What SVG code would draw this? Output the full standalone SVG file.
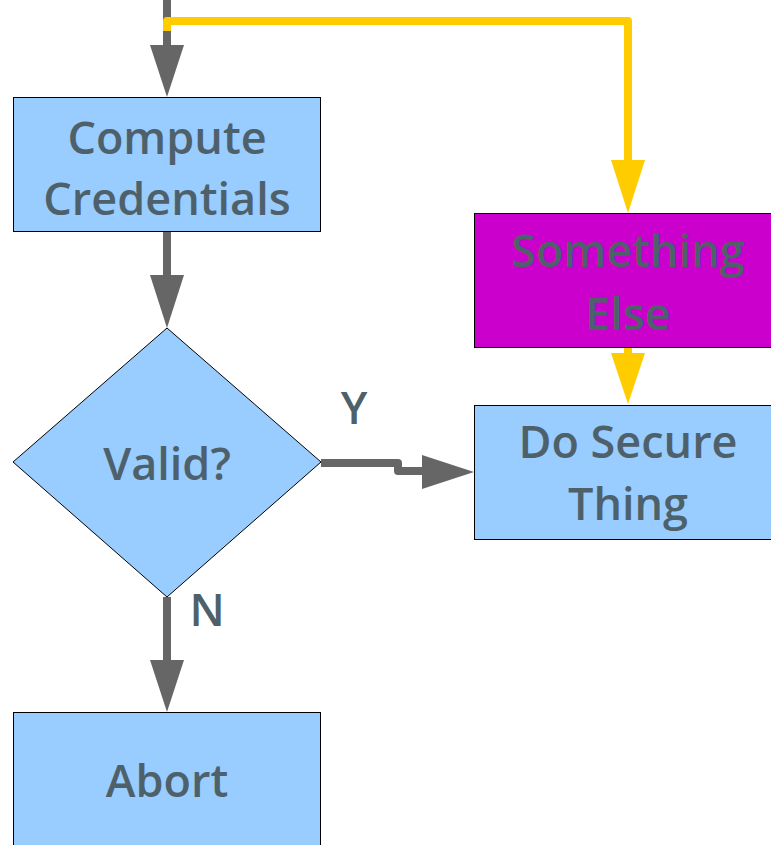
<svg xmlns="http://www.w3.org/2000/svg" width="771" height="845" viewBox="0 0 771 845">
<style>
.box{stroke:#000;stroke-width:1}
.blue{fill:#99ccff}
.mag{fill:#cc00cc}
.t{font-family:"Open Sans","Liberation Sans",sans-serif;font-size:45px;font-weight:600;fill:#4e616b;text-anchor:middle}
.g{stroke:#666666;stroke-width:8;fill:none}
.y{stroke:#ffcc00;stroke-width:8;fill:none;stroke-linejoin:round}
.gh{fill:#666666}
.yh{fill:#ffcc00}
</style>
<rect width="771" height="845" fill="#fff"/>
<g id="connectors">
<path class="g" d="M167,0 V46"/>
<polygon class="gh" points="150,45 184,45 167,97"/>
<path class="y" d="M167,31 V21 H628 V162"/>
<polygon class="yh" points="611,160 645,160 628,213"/>
<path class="g" d="M167,232 V276"/>
<polygon class="gh" points="150,275 184,275 167,328"/>
<path class="y" d="M628,347 V355"/>
<polygon class="yh" points="611,353 645,353 628,404"/>
<path class="g" d="M321,463 H398 V471 H424" style="stroke-linejoin:round"/>
<polygon class="gh" points="422,455 422,489 474,472"/>
<path class="g" d="M167,597 V661"/>
<polygon class="gh" points="150,660 184,660 167,712"/>
<text class="t" x="354" y="424">Y</text>
<text class="t" x="207" y="626">N</text>
</g>
<g id="compute">
<rect class="box blue" x="13.5" y="97.5" width="307" height="134"/>
<text class="t" x="167" y="154">Compute</text>
<text class="t" x="167" y="215">Credentials</text>
</g>
<g id="valid">
<polygon class="box blue" points="167,328 321,462 167,597 13,462"/>
<text class="t" x="167" y="480">Valid?</text>
</g>
<g id="something">
<rect class="box mag" x="474.5" y="213.5" width="300" height="134"/>
<text class="t" x="628" y="267">Something</text>
<text class="t" x="628" y="330">Else</text>
</g>
<g id="secure">
<rect class="box blue" x="474.5" y="405.5" width="300" height="134"/>
<text class="t" x="628" y="458">Do Secure</text>
<text class="t" x="628" y="520">Thing</text>
</g>
<g id="abort">
<rect class="box blue" x="13.5" y="712.5" width="307" height="140"/>
<text class="t" x="167" y="797">Abort</text>
</g>
</svg>
